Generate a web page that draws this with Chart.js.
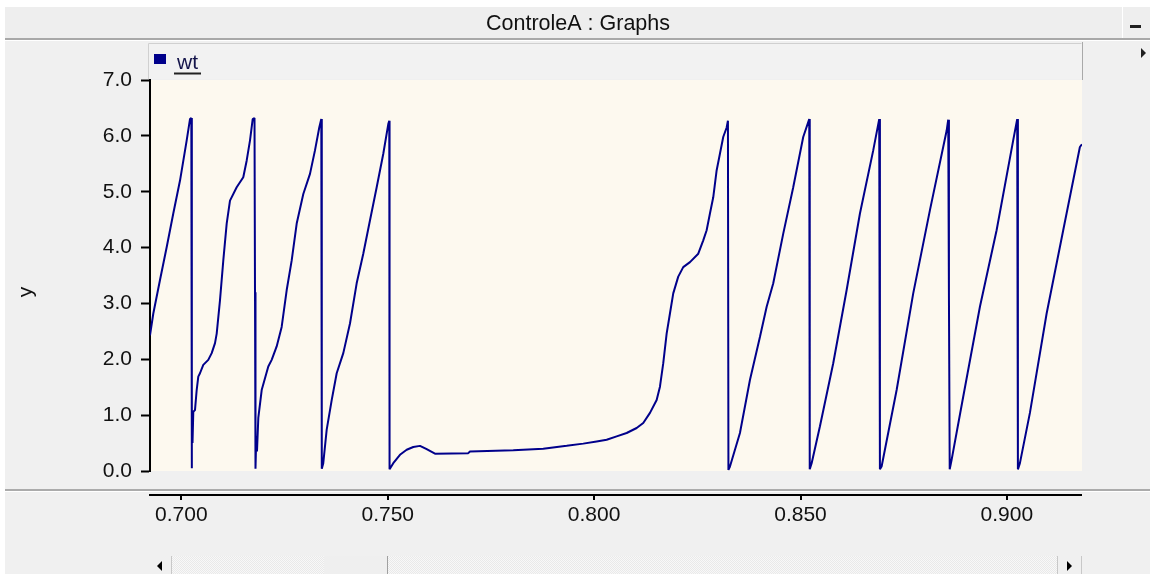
<!DOCTYPE html>
<html>
<head>
<meta charset="utf-8">
<script src="https://cdn.jsdelivr.net/npm/chart.js@4"></script>
<style>
  html, body { margin: 0; padding: 0; background: #f0f0f0; overflow: hidden; }
  canvas { display: block; }
</style>
</head>
<body>
<canvas id="graph" width="1150" height="574"></canvas>
<script>
// Window / series labels
const windowTitle = 'ControleA : Graphs';
const seriesName = 'wt';
const yAxisTitle = 'y';

// Axis ticks and visible time window
const xTickValues = [0.700, 0.750, 0.800, 0.850, 0.900];
const yTickValues = [0, 1, 2, 3, 4, 5, 6, 7];
const timeWindow = [0.6924, 0.9182];

// Sampled time (s)
const timeValues = [
  0.69240, 0.69320, 0.69482, 0.69645, 0.69804, 0.69967, 0.70129, 0.70209, 0.70241,
  0.70250, 0.70257, 0.70270, 0.70289, 0.70330, 0.70371, 0.70410, 0.70451, 0.70531, 0.70652,
  0.70735, 0.70815, 0.70856, 0.70936, 0.71016, 0.71098, 0.71178, 0.71340, 0.71500, 0.71583,
  0.71663, 0.71728, 0.71772,
  0.71784, 0.71796, 0.71815, 0.71832, 0.71864, 0.71946, 0.72026, 0.72106, 0.72188, 0.72309,
  0.72430, 0.72552, 0.72673, 0.72794, 0.72954, 0.73116, 0.73237, 0.73341, 0.73390,
  0.73402, 0.73438, 0.73521, 0.73642, 0.73763, 0.73923, 0.74085, 0.74247, 0.74407, 0.74570,
  0.74732, 0.74892, 0.75013, 0.75037,
  0.75044, 0.75134, 0.75296, 0.75459, 0.75618, 0.75781, 0.75943, 0.76144, 0.76951, 0.76992,
  0.78041, 0.78768, 0.79335, 0.79737, 0.80061, 0.80304, 0.80546, 0.80788, 0.81030, 0.81190,
  0.81353, 0.81515, 0.81595, 0.81675, 0.81757, 0.81837, 0.81917, 0.82038, 0.82159, 0.82322,
  0.82523, 0.82644, 0.82726, 0.82806, 0.82886, 0.82968, 0.83048, 0.83128, 0.83211, 0.83242,
  0.83254, 0.83291, 0.83533, 0.83775, 0.84017, 0.84180, 0.84340, 0.84582, 0.84824, 0.85066, 0.85212,
  0.85224, 0.85270, 0.85471, 0.85793, 0.86118, 0.86440, 0.86762, 0.86907,
  0.86924, 0.86965, 0.87329, 0.87731, 0.88136, 0.88540, 0.88579,
  0.88596, 0.88615, 0.88661, 0.88942, 0.89347, 0.89751, 0.90153, 0.90250,
  0.90267, 0.90316, 0.90558, 0.90963, 0.91365, 0.91769, 0.91818
];

// Electrical angle wt (rad), wrapping at 2*pi
const wtValues = [
  2.43, 2.82, 3.42, 4.01, 4.61, 5.20, 5.92, 6.30, 6.32,
  0.05, 1.06, 0.50, 1.06, 1.09, 1.45, 1.69, 1.75, 1.90, 1.99,
  2.11, 2.29, 2.46, 3.06, 3.77, 4.43, 4.84, 5.08, 5.26, 5.56,
  5.92, 6.30, 6.32,
  3.20, 0.04, 0.62, 0.35, 0.95, 1.45, 1.66, 1.87, 1.99, 2.23,
  2.58, 3.24, 3.77, 4.43, 4.96, 5.32, 5.74, 6.15, 6.30,
  0.04, 0.14, 0.74, 1.27, 1.75, 2.11, 2.64, 3.36, 3.89, 4.49,
  5.08, 5.68, 6.21, 6.27,
  0.03, 0.14, 0.29, 0.38, 0.43, 0.45, 0.39, 0.31, 0.32, 0.35,
  0.37, 0.40, 0.45, 0.49, 0.53, 0.56, 0.62, 0.68, 0.77, 0.86,
  1.04, 1.27, 1.51, 1.93, 2.46, 2.82, 3.18, 3.48, 3.65, 3.74,
  3.89, 4.13, 4.31, 4.61, 4.90, 5.38, 5.68, 5.98, 6.15, 6.27,
  0.02, 0.08, 0.68, 1.63, 2.40, 2.94, 3.36, 4.25, 5.08, 5.98, 6.30,
  0.03, 0.14, 0.80, 1.93, 3.24, 4.61, 5.74, 6.30,
  0.03, 0.08, 1.45, 3.18, 4.67, 6.09, 6.29,
  3.15, 0.03, 0.20, 1.33, 2.94, 4.31, 5.92, 6.30,
  0.03, 0.14, 1.04, 2.82, 4.31, 5.80, 5.85
];

const LINE_COLOR = '#00008b';
const PLOT_BG = '#fdf9ef';
const PANEL_BG = '#f0f0f0';
const TEXT_COLOR = '#111111';
const FONT = '"Liberation Sans", Arial, sans-serif';

const points = timeValues.map((t, i) => ({ x: t, y: wtValues[i] }));

function hatchPattern(ctx) {
  const c = document.createElement('canvas');
  c.width = 2; c.height = 2;
  const g = c.getContext('2d');
  g.fillStyle = '#f8f8f8'; g.fillRect(0, 0, 2, 2);
  g.fillStyle = '#e9e9e9'; g.fillRect(0, 0, 1, 1); g.fillRect(1, 1, 1, 1);
  return ctx.createPattern(c, 'repeat');
}

// Window chrome, plot background, detached time axis, legend strip and scroll bar
const windowFrame = {
  id: 'windowFrame',
  beforeDraw(chart) {
    const { ctx, chartArea } = chart;
    ctx.save();
    ctx.fillStyle = PANEL_BG;
    ctx.fillRect(0, 0, chart.width, chart.height);
    ctx.fillStyle = '#ffffff';
    ctx.fillRect(0, 0, chart.width, 7);
    ctx.fillRect(0, 0, 5, chart.height);

    // title bar
    ctx.fillStyle = '#eeeeee';
    ctx.fillRect(5, 7, 1117, 31);
    ctx.fillRect(1123, 7, 27, 31);
    ctx.fillStyle = '#a8a8a8';
    ctx.fillRect(5, 38, 1145, 2);
    ctx.fillStyle = '#ffffff';
    ctx.fillRect(5, 40, 1145, 1);
    ctx.fillRect(1122, 7, 1, 31);

    // legend strip
    ctx.fillStyle = '#f2f2f2';
    ctx.fillRect(148, 43, 934, 36);
    ctx.strokeStyle = '#d0d0d0';
    ctx.lineWidth = 1;
    ctx.beginPath();
    ctx.moveTo(148.5, 79); ctx.lineTo(148.5, 43.5); ctx.lineTo(1081.5, 43.5);
    ctx.stroke();
    ctx.strokeStyle = '#a9a9a9';
    ctx.beginPath();
    ctx.moveTo(1082.5, 42); ctx.lineTo(1082.5, 80);
    ctx.stroke();

    // plot background
    ctx.fillStyle = PLOT_BG;
    ctx.fillRect(chartArea.left, chartArea.top, chartArea.right - chartArea.left, chartArea.bottom - chartArea.top);
    ctx.restore();
  },
  afterDraw(chart) {
    const { ctx } = chart;
    const xs = chart.scales.x;
    ctx.save();

    // title
    ctx.fillStyle = TEXT_COLOR;
    ctx.font = '21.5px ' + FONT;
    ctx.textAlign = 'center';
    ctx.textBaseline = 'alphabetic';
    ctx.fillText(windowTitle, 578, 30);

    // minimise button and side arrow
    ctx.fillStyle = '#202020';
    ctx.fillRect(1130, 25, 11, 3);
    ctx.beginPath();
    ctx.moveTo(1141, 48); ctx.lineTo(1146, 53); ctx.lineTo(1141, 58); ctx.closePath();
    ctx.fill();

    // legend entry
    const ds = chart.data.datasets[0];
    ctx.fillStyle = ds.borderColor;
    ctx.fillRect(154, 54, 12, 10);
    ctx.fillStyle = '#14144a';
    ctx.font = '21px ' + FONT;
    ctx.textAlign = 'left';
    ctx.fillText(ds.label, 177, 69);
    ctx.fillStyle = '#222222';
    ctx.fillRect(174, 72.5, 27, 2);

    // y axis title
    ctx.save();
    ctx.translate(26, 292);
    ctx.rotate(-Math.PI / 2);
    ctx.fillStyle = TEXT_COLOR;
    ctx.font = '21px ' + FONT;
    ctx.textAlign = 'center';
    ctx.textBaseline = 'middle';
    ctx.fillText(yAxisTitle, 0, 0);
    ctx.restore();

    // separator above the time axis
    ctx.fillStyle = '#ababab';
    ctx.fillRect(5, 489, 1145, 2);
    ctx.fillStyle = '#ffffff';
    ctx.fillRect(5, 491, 1145, 1);

    // time axis line and tick marks
    ctx.fillStyle = '#000000';
    ctx.fillRect(149, 494, xs.right - 149, 2);
    xs.ticks.forEach(t => {
      const px = Math.round(xs.getPixelForValue(t.value));
      ctx.fillRect(px - 1, 494, 2, 6);
    });

    // horizontal scroll bar
    ctx.fillStyle = hatchPattern(ctx);
    ctx.fillRect(171, 556, 886, 18);
    ctx.fillStyle = '#efefef';
    ctx.fillRect(324, 556, 63, 18);
    ctx.fillStyle = '#a0a0a0';
    ctx.fillRect(387, 556, 1, 18);
    ctx.fillStyle = '#f0f0f0';
    ctx.fillRect(149, 556, 22, 18);
    ctx.fillRect(1057, 556, 24, 18);
    ctx.fillStyle = '#c8c8c8';
    ctx.fillRect(171, 556, 1, 18);
    ctx.fillRect(1057, 556, 1, 18);
    ctx.fillRect(1081, 556, 1, 18);
    ctx.fillStyle = '#000000';
    ctx.beginPath();
    ctx.moveTo(157, 566); ctx.lineTo(162, 561); ctx.lineTo(162, 571); ctx.closePath();
    ctx.fill();
    ctx.beginPath();
    ctx.moveTo(1067, 561); ctx.lineTo(1072, 566); ctx.lineTo(1067, 571); ctx.closePath();
    ctx.fill();

    ctx.restore();
  }
};

new Chart(document.getElementById('graph'), {
  type: 'line',
  data: {
    datasets: [{
      label: seriesName,
      data: points,
      borderColor: LINE_COLOR,
      backgroundColor: LINE_COLOR,
      borderWidth: 2,
      borderJoinStyle: 'bevel',
      pointRadius: 0,
      tension: 0,
      fill: false
    }]
  },
  options: {
    responsive: false,
    animation: false,
    devicePixelRatio: 1,
    layout: { padding: { top: 80, right: 68, bottom: 0, left: 0 } },
    plugins: {
      legend: { display: false },
      tooltip: { enabled: false }
    },
    scales: {
      x: {
        type: 'linear',
        min: timeWindow[0],
        max: timeWindow[1],
        grid: { display: true, drawOnChartArea: false, drawTicks: false },
        border: { display: false },
        ticks: {
          padding: 32,
          color: TEXT_COLOR,
          font: { family: FONT, size: 21 },
          maxRotation: 0,
          autoSkip: false,
          callback: v => v.toFixed(3)
        },
        afterBuildTicks: s => { s.ticks = xTickValues.map(v => ({ value: v })); },
        afterFit: s => { s.height = 103; }
      },
      y: {
        min: 0,
        max: 7,
        grid: { drawOnChartArea: false, tickLength: 9, tickColor: '#000000', tickWidth: 2 },
        border: { color: '#000000', width: 2 },
        ticks: {
          padding: 9,
          color: TEXT_COLOR,
          font: { family: FONT, size: 21 },
          callback: v => v.toFixed(1)
        },
        afterBuildTicks: s => { s.ticks = yTickValues.map(v => ({ value: v })); },
        afterFit: s => { s.width = 150; }
      }
    }
  },
  plugins: [windowFrame]
});
</script>
</body>
</html>
